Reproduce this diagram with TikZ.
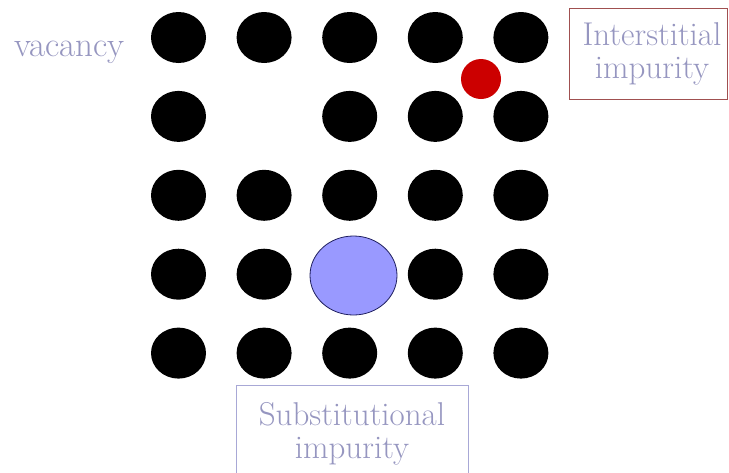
\documentclass[tikz,border=0pt]{standalone}
\usepackage{tikz}
\usetikzlibrary{positioning, shapes.geometric}
\definecolor{labc}{HTML}{9696C0}
\definecolor{subc}{HTML}{9999FF}
\definecolor{subdc}{HTML}{202060}
\definecolor{intc}{HTML}{CC0000}
\definecolor{intbc}{HTML}{A05050}
\definecolor{subbc}{HTML}{A8A8D6}
\newcommand{\atom}[2]{%
  \node[atom] (#1) at #2 {};
}

\begin{document}
\begin{tikzpicture}[x=1pt, y=-1pt,
      atom/.style={ellipse, fill=black, minimum width=55pt,
        minimum height=51pt, inner sep=0pt},
      lab/.style={font=\fontsize{33}{33}\selectfont, text=labc},
      labbox/.style={lab, draw, line width=1pt, align=center}]
    \useasboundingbox (0,0) rectangle (729,472);
    % lattice, with the vacancy at (2,2) and the big atom at (3,4)
    \foreach \c in {1,...,5}
      \foreach \r in {1,...,5} {
        \ifnum\c\r=22 \else\ifnum\c\r=34 \else
          \atom{a\c\r}{({178.5+85.6*(\c-1)},{37.5+78.9*(\r-1)})}
        \fi\fi
      }
    \node[ellipse, draw=subdc, fill=subc, line width=0.8pt,
          minimum width=87pt, minimum height=79pt, inner sep=0pt]
      (sub) at (353.5,275.5) {};
    \node[circle, fill=intc, minimum size=40pt, inner sep=0pt]
      (int) at (481,79) {};
    % labels
    \node[lab, font=\fontsize{35}{35}\selectfont, anchor=base west,
          inner sep=0pt] (vac) at (14,56) {vacancy};
    \node[labbox, draw=intbc, minimum width=158pt, minimum height=91pt,
          inner xsep=1pt] (intlab) at (648,53.5)
      {\hspace*{8pt}Interstitial\\\hspace*{8pt}impurity};
    \node[labbox, draw=subbc, anchor=north, minimum width=232pt,
          inner ysep=17pt] (sublab) at (352,385)
      {Substitutional\\impurity};
  \end{tikzpicture}
\end{document}
